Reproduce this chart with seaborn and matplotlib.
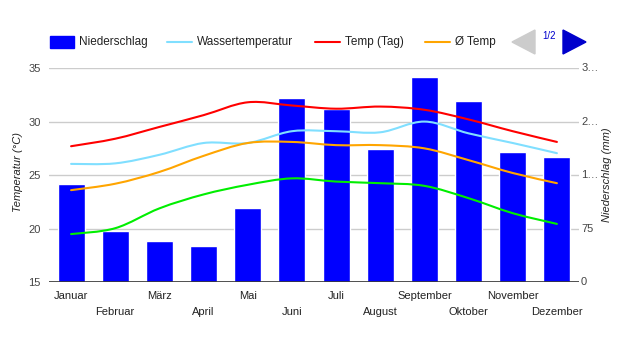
import numpy as np
import pandas as pd
import matplotlib
matplotlib.use("Agg")
import matplotlib.pyplot as plt
import seaborn as sns
from matplotlib.path import Path
from matplotlib.patches import PathPatch, Rectangle, Polygon
from matplotlib.lines import Line2D

# --- data ---
months = ["Januar", "Februar", "März", "April", "Mai", "Juni", "Juli",
          "August", "September", "Oktober", "November", "Dezember"]
niederschlag = [138, 72, 58, 51, 104, 258, 243, 187, 287, 254, 183, 176]
wassertemp = [26.05, 26.1, 26.9, 28.0, 28.0, 29.1, 29.1, 29.0, 30.0, 28.9, 28.0, 27.05]
temp_tag = [27.7, 28.4, 29.5, 30.6, 31.8, 31.5, 31.2, 31.4, 31.1, 30.2, 29.1, 28.1]
temp_mittel = [23.6, 24.2, 25.3, 26.8, 28.0, 28.1, 27.8, 27.8, 27.5, 26.4, 25.2, 24.25]
temp_nacht = [19.5, 20.05, 21.9, 23.2, 24.1, 24.7, 24.4, 24.25, 24.0, 22.85, 21.45, 20.45]

temp_ticks = [15, 20, 25, 30, 35]
rain_ticks = [0, 75, 150, 225, 300]
rain_labels = ["0", "75", "1…", "2…", "3…"]

sns.set_theme(style="white")
plt.rcParams["font.family"] = ["Liberation Sans", "DejaVu Sans"]

W, H = 617, 350
fig = plt.figure(figsize=(W / 100, H / 100), dpi=100)
ax2 = fig.add_axes([49 / W, 1 - 282.3 / H, 530 / W, 214.3 / H])
ax = ax2.twinx()
ax.set_zorder(ax2.get_zorder() + 1)
ax.patch.set_visible(False)


def smooth_path(xs, ys):
    """cubic bezier path through the points (catmull-rom style)"""
    pts = np.column_stack([xs, ys]).astype(float)
    ext = np.vstack([pts[0], pts, pts[-1]])
    verts = [pts[0]]
    codes = [Path.MOVETO]
    for i in range(len(pts) - 1):
        p0, p1, p2, p3 = ext[i], ext[i + 1], ext[i + 2], ext[i + 3]
        verts += [p1 + (p2 - p0) / 6, p2 - (p3 - p1) / 6, p2]
        codes += [Path.CURVE4] * 3
    return Path(verts, codes)


# precipitation bars (right scale, behind the lines)
df = pd.DataFrame({"Monat": months, "Niederschlag": niederschlag})
sns.barplot(data=df, x="Monat", y="Niederschlag", color="#0000ff",
            saturation=1, width=0.61, ax=ax2, zorder=2)
ax2.set_ylim(0, 300)
ax2.set_xlim(-0.5, 11.5)
ax2.set_yticks(rain_ticks)
ax2.set_yticklabels([])
ax2.yaxis.grid(True, color="#cccccc", linewidth=1, zorder=0)
ax2.set_axisbelow(True)
ax2.set_xlabel("")
ax2.set_ylabel("")

# temperature lines (left scale)
x = np.arange(len(months))
series = [(wassertemp, "#80dfff"), (temp_tag, "#ff0000"),
          (temp_mittel, "#ffa500"), (temp_nacht, "#00ee00")]
for vals, col in series:
    ax.add_patch(PathPatch(smooth_path(x, vals), fill=False, edgecolor=col,
                           linewidth=1.5, capstyle="round", zorder=3))
ax.set_ylim(15, 35)
ax.set_xlim(-0.5, 11.5)

for a in (ax, ax2):
    for s in a.spines.values():
        s.set_visible(False)
ax2.axhline(0, color="#333333", linewidth=1.2, zorder=4)

# left ticks as temp, right ticks as precipitation
ax.yaxis.tick_left()
ax.set_yticks(temp_ticks)
ax.set_yticklabels([str(t) for t in temp_ticks])
ax.tick_params(axis="y", length=0, pad=6, labelsize=8, labelcolor="#444444")
ax.set_ylabel("")
fig.text(18 / W, 1 - 172 / H, "Temperatur (°C)", rotation=90, ha="center",
         va="center", fontsize=8, style="italic", color="#222222")

for t, lab in zip(rain_ticks, rain_labels):
    ax2.annotate(lab, xy=(1, t), xycoords=("axes fraction", "data"),
                 xytext=(1.5, 0), textcoords="offset points", ha="left",
                 va="center", fontsize=8, color="#444444")
fig.text(607 / W, 1 - 175 / H, "Niederschlag (mm)", rotation=90, ha="center",
         va="center", fontsize=8, style="italic", color="#222222")

# staggered month labels
ax2.set_xticks(x)
ax2.set_xticklabels([])
ax2.tick_params(axis="x", length=0)
ax2.tick_params(axis="y", length=0)
ax.tick_params(axis="x", length=0, labelbottom=False)
for i, m in enumerate(months):
    dy = -10 if i % 2 == 0 else -21.5
    ax2.annotate(m, xy=(i, 0), xycoords="data", xytext=(0, dy),
                 textcoords="offset points", ha="center", va="center",
                 fontsize=8, color="#222222")

# legend across the top
ly = 1 - 42 / H
fig.patches.append(Rectangle((50 / W, 1 - 48 / H), 24 / W, 12 / H,
                             transform=fig.transFigure, color="#0000ff"))
fig.text(79 / W, ly, "Niederschlag", fontsize=8.5, va="center", color="#222222")
for x0, col, lab in [(167, "#80dfff", "Wassertemperatur"),
                     (315, "#ff0000", "Temp (Tag)"),
                     (425, "#ffa500", "Ø Temp")]:
    fig.lines.append(Line2D([x0 / W, (x0 + 25) / W], [ly, ly], color=col,
                            linewidth=1.5, transform=fig.transFigure))
    fig.text((x0 + 30) / W, ly, lab, fontsize=8.5, va="center", color="#222222")

fig.patches.append(Polygon([(512 / W, ly), (535 / W, 1 - 30 / H), (535 / W, 1 - 54 / H)],
                           closed=True, transform=fig.transFigure, color="#cccccc"))
fig.patches.append(Polygon([(586 / W, ly), (563 / W, 1 - 30 / H), (563 / W, 1 - 54 / H)],
                           closed=True, transform=fig.transFigure, color="#0000cc"))
fig.text(549.5 / W, 1 - 36 / H, "1/2", fontsize=7, ha="center", va="center",
         color="#0000cc")

plt.savefig("out.png", dpi=100)
plt.close()
